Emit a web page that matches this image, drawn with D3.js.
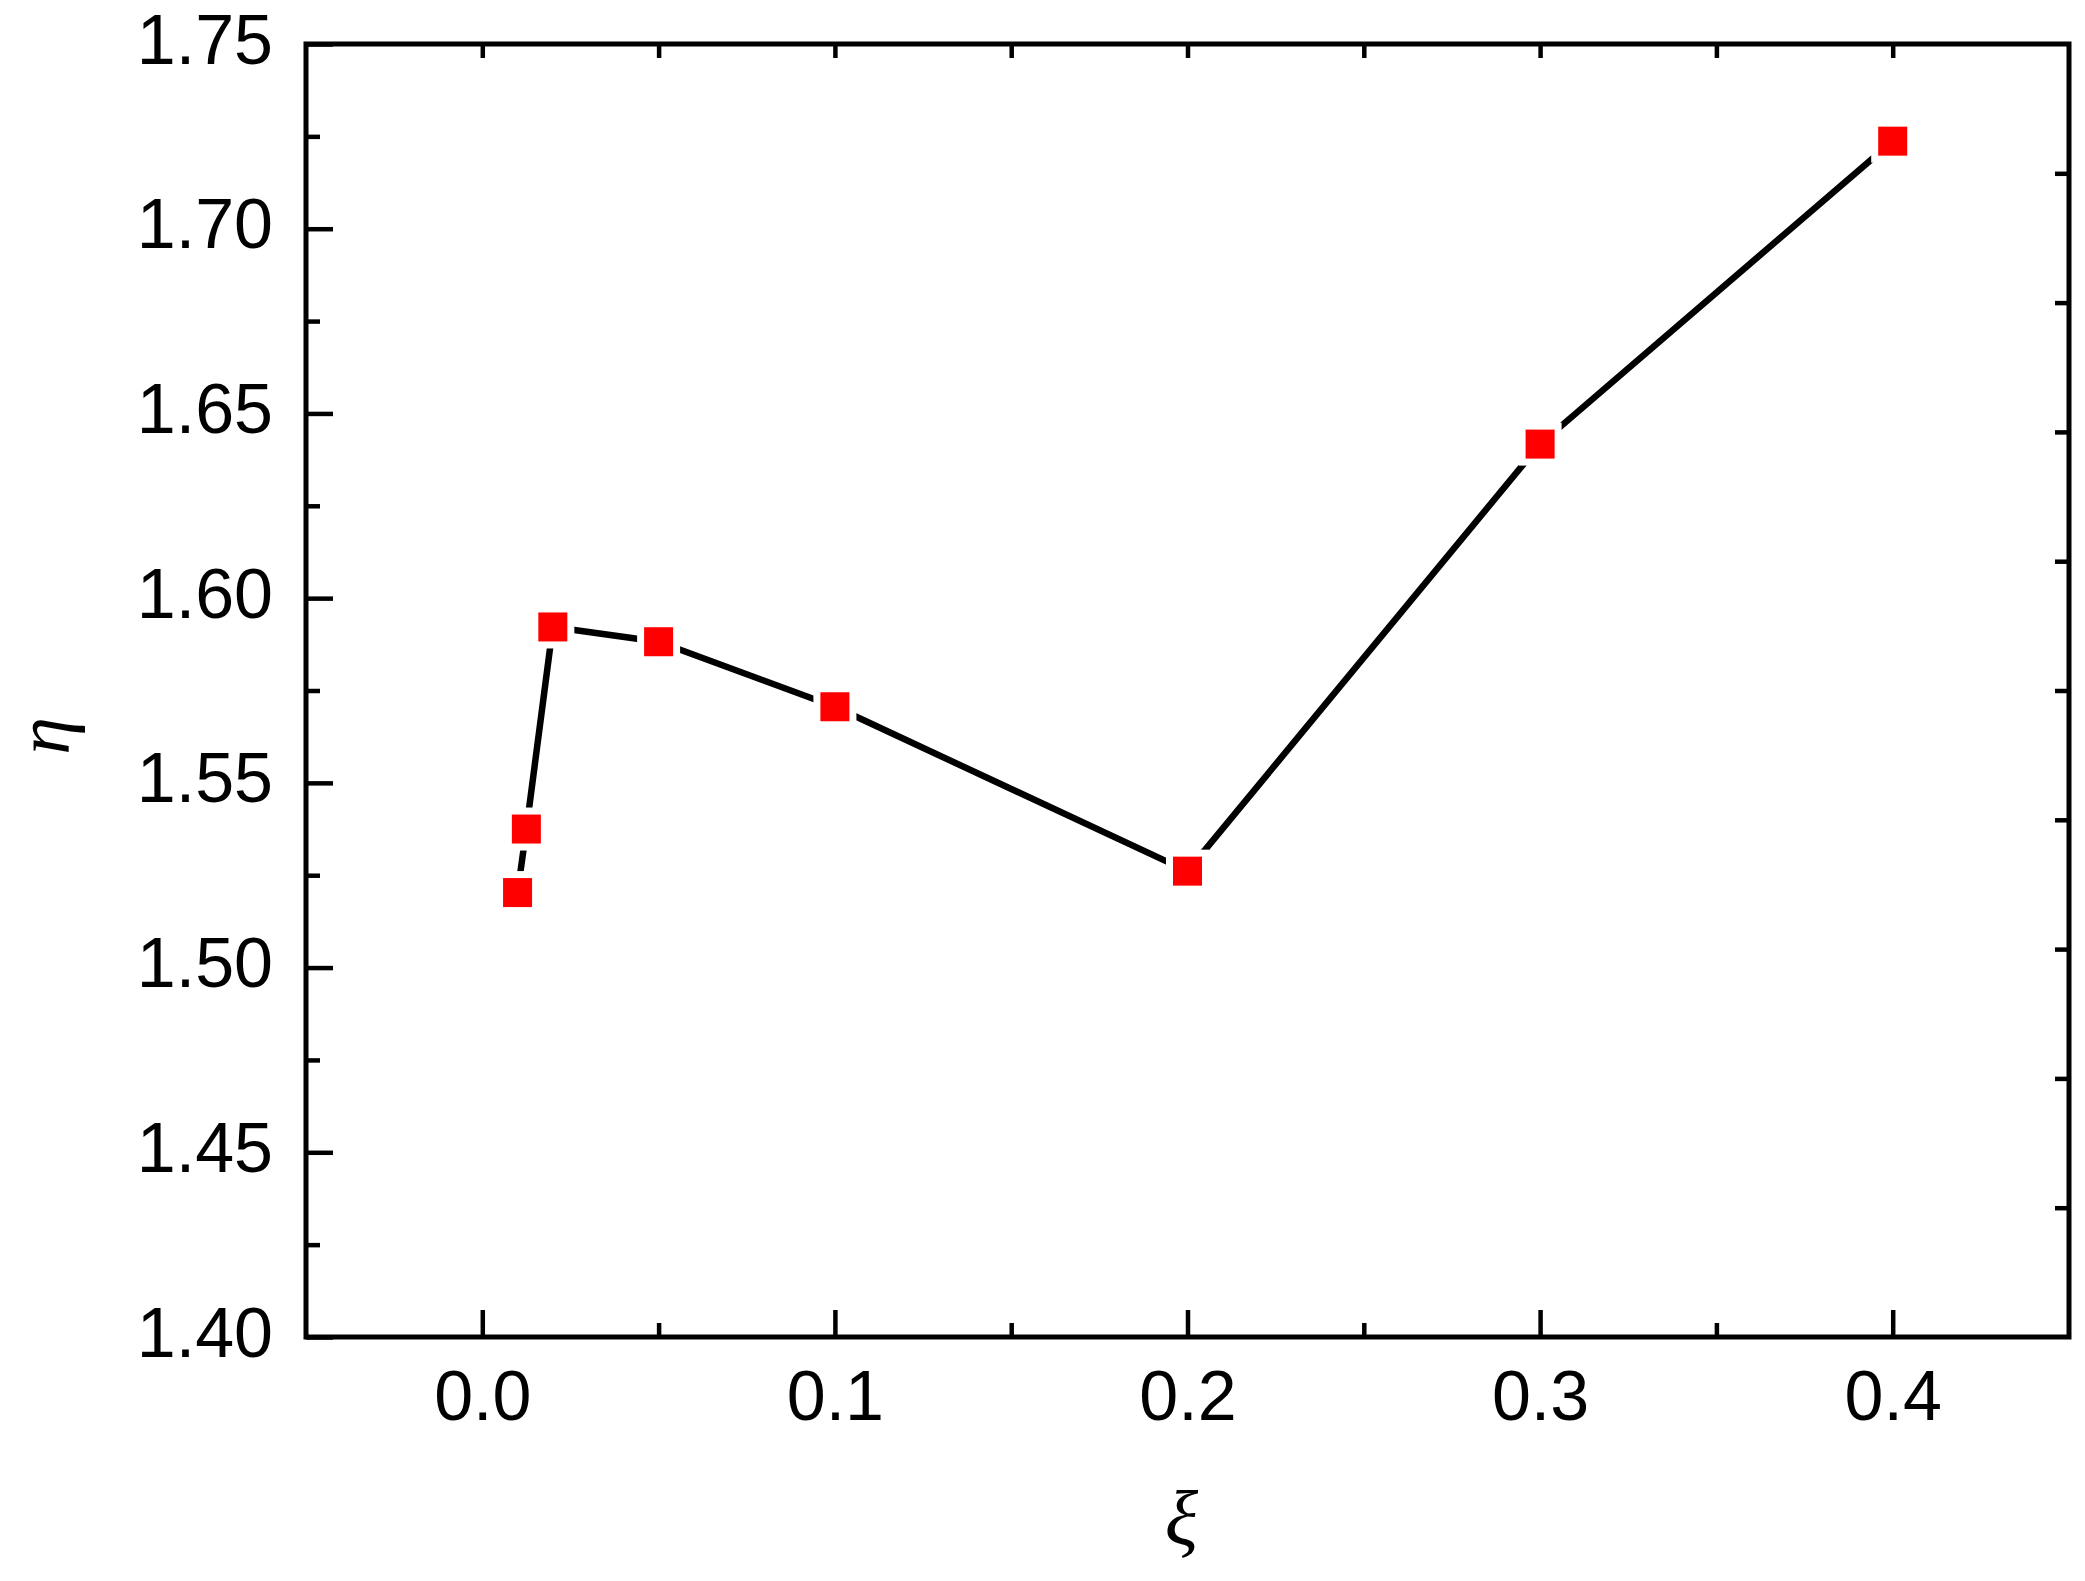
<!DOCTYPE html>
<html>
<head>
<meta charset="utf-8">
<script src="https://cdn.jsdelivr.net/npm/d3@7"></script>
<style>
  body { margin: 0; background: #fff; }
  text { font-family: "Liberation Sans", Arial, sans-serif; }
</style>
</head>
<body>
<div id="chart"></div>
<script>
// data
var xi  = [0.01, 0.0125, 0.02, 0.05, 0.1, 0.2, 0.3, 0.4];
var eta = [1.5203, 1.5375, 1.5922, 1.5882, 1.5706, 1.5261, 1.6417, 1.7237];

var xTicks = [0.0, 0.1, 0.2, 0.3, 0.4];
var xMinor = [0.05, 0.15, 0.25, 0.35];
var yTicks = [1.40, 1.45, 1.50, 1.55, 1.60, 1.65, 1.70, 1.75];
var yMinor = [1.425, 1.475, 1.525, 1.575, 1.625, 1.675, 1.725];

var W = 2085, H = 1581;
var margin = {top: 44, right: 16, bottom: 244, left: 306};
var width = W - margin.left - margin.right,
    height = H - margin.top - margin.bottom;

var svg = d3.select("#chart").append("svg")
  .attr("width", W)
  .attr("height", H);

var g = svg.append("g")
  .attr("transform", "translate(" + margin.left + "," + margin.top + ")");

var x = d3.scaleLinear().domain([-0.05, 0.45]).range([0, width]);
var y = d3.scaleLinear().domain([1.40, 1.75]).range([height, 0]);

var tickW = 4.5;

// bottom axis, ticks pointing in
var xAxis = g.append("g")
  .attr("transform", "translate(0," + height + ")")
  .call(d3.axisBottom(x).tickValues(xTicks).tickSize(-27).tickPadding(83)
    .tickFormat(d3.format(".1f")));
xAxis.select(".domain").remove();
xAxis.selectAll("line").attr("stroke", "#000").attr("stroke-width", tickW);
xAxis.selectAll("text").attr("dy", 0).attr("font-size", 70)
  .attr("font-family", "Liberation Sans").attr("fill", "#000");

var xAxisMinor = g.append("g")
  .attr("transform", "translate(0," + height + ")")
  .call(d3.axisBottom(x).tickValues(xMinor).tickSize(-14).tickFormat(""));
xAxisMinor.select(".domain").remove();
xAxisMinor.selectAll("line").attr("stroke", "#000").attr("stroke-width", tickW);

// top axis, short ticks only
var xTop = g.append("g")
  .call(d3.axisTop(x).tickValues(xTicks.concat(xMinor)).tickSize(-14).tickFormat(""));
xTop.select(".domain").remove();
xTop.selectAll("line").attr("stroke", "#000").attr("stroke-width", tickW);

// left axis
var yAxis = g.append("g")
  .call(d3.axisLeft(y).tickValues(yTicks).tickSize(-27).tickPadding(33)
    .tickFormat(d3.format(".2f")));
yAxis.select(".domain").remove();
yAxis.selectAll("line").attr("stroke", "#000").attr("stroke-width", tickW);
yAxis.selectAll("text").attr("dy", 19).attr("font-size", 70)
  .attr("font-family", "Liberation Sans").attr("fill", "#000");

var yAxisMinor = g.append("g")
  .call(d3.axisLeft(y).tickValues(yMinor).tickSize(-14).tickFormat(""));
yAxisMinor.select(".domain").remove();
yAxisMinor.selectAll("line").attr("stroke", "#000").attr("stroke-width", tickW);

// right axis has its own 10 divisions
var yr = d3.scaleLinear().domain([0, 10]).range([height, 0]);
var yRight = g.append("g")
  .attr("transform", "translate(" + width + ",0)")
  .call(d3.axisRight(yr).tickValues(d3.range(1, 10)).tickSize(-14).tickFormat(""));
yRight.select(".domain").remove();
yRight.selectAll("line").attr("stroke", "#000").attr("stroke-width", tickW);

// frame
g.append("rect")
  .attr("width", width)
  .attr("height", height)
  .attr("fill", "none")
  .attr("stroke", "#000")
  .attr("stroke-width", 5);

// line
var pts = xi.map(function(d, i) { return [d, eta[i]]; });
var line = d3.line()
  .x(function(d) { return x(d[0]); })
  .y(function(d) { return y(d[1]); });

g.append("path")
  .datum(pts)
  .attr("d", line)
  .attr("fill", "none")
  .attr("stroke", "#000")
  .attr("stroke-width", 6.5)
  .attr("stroke-linecap", "round")
  .attr("stroke-linejoin", "round");

// markers with white halo so the line stops short of them
var s = 29;
g.selectAll("rect.mk")
  .data(pts)
  .enter()
  .append("rect")
  .attr("class", "mk")
  .attr("x", function(d) { return x(d[0]) - s / 2; })
  .attr("y", function(d) { return y(d[1]) - s / 2; })
  .attr("width", s)
  .attr("height", s)
  .attr("fill", "#ff0000")
  .attr("stroke", "#fff")
  .attr("stroke-width", 14)
  .style("paint-order", "stroke");

// axis titles
svg.append("text")
  .attr("x", margin.left + x(0.2) - 6)
  .attr("y", 1545)
  .attr("text-anchor", "middle")
  .style("font-family", "'Liberation Serif', 'Times New Roman', serif")
  .style("font-style", "italic")
  .attr("font-size", 78)
  .text("ξ");

svg.append("text")
  .attr("transform", "translate(69,736) rotate(-90)")
  .attr("text-anchor", "middle")
  .style("font-family", "'Liberation Serif', 'Times New Roman', serif")
  .style("font-style", "italic")
  .attr("font-size", 76)
  .text("η");
</script>
</body>
</html>
